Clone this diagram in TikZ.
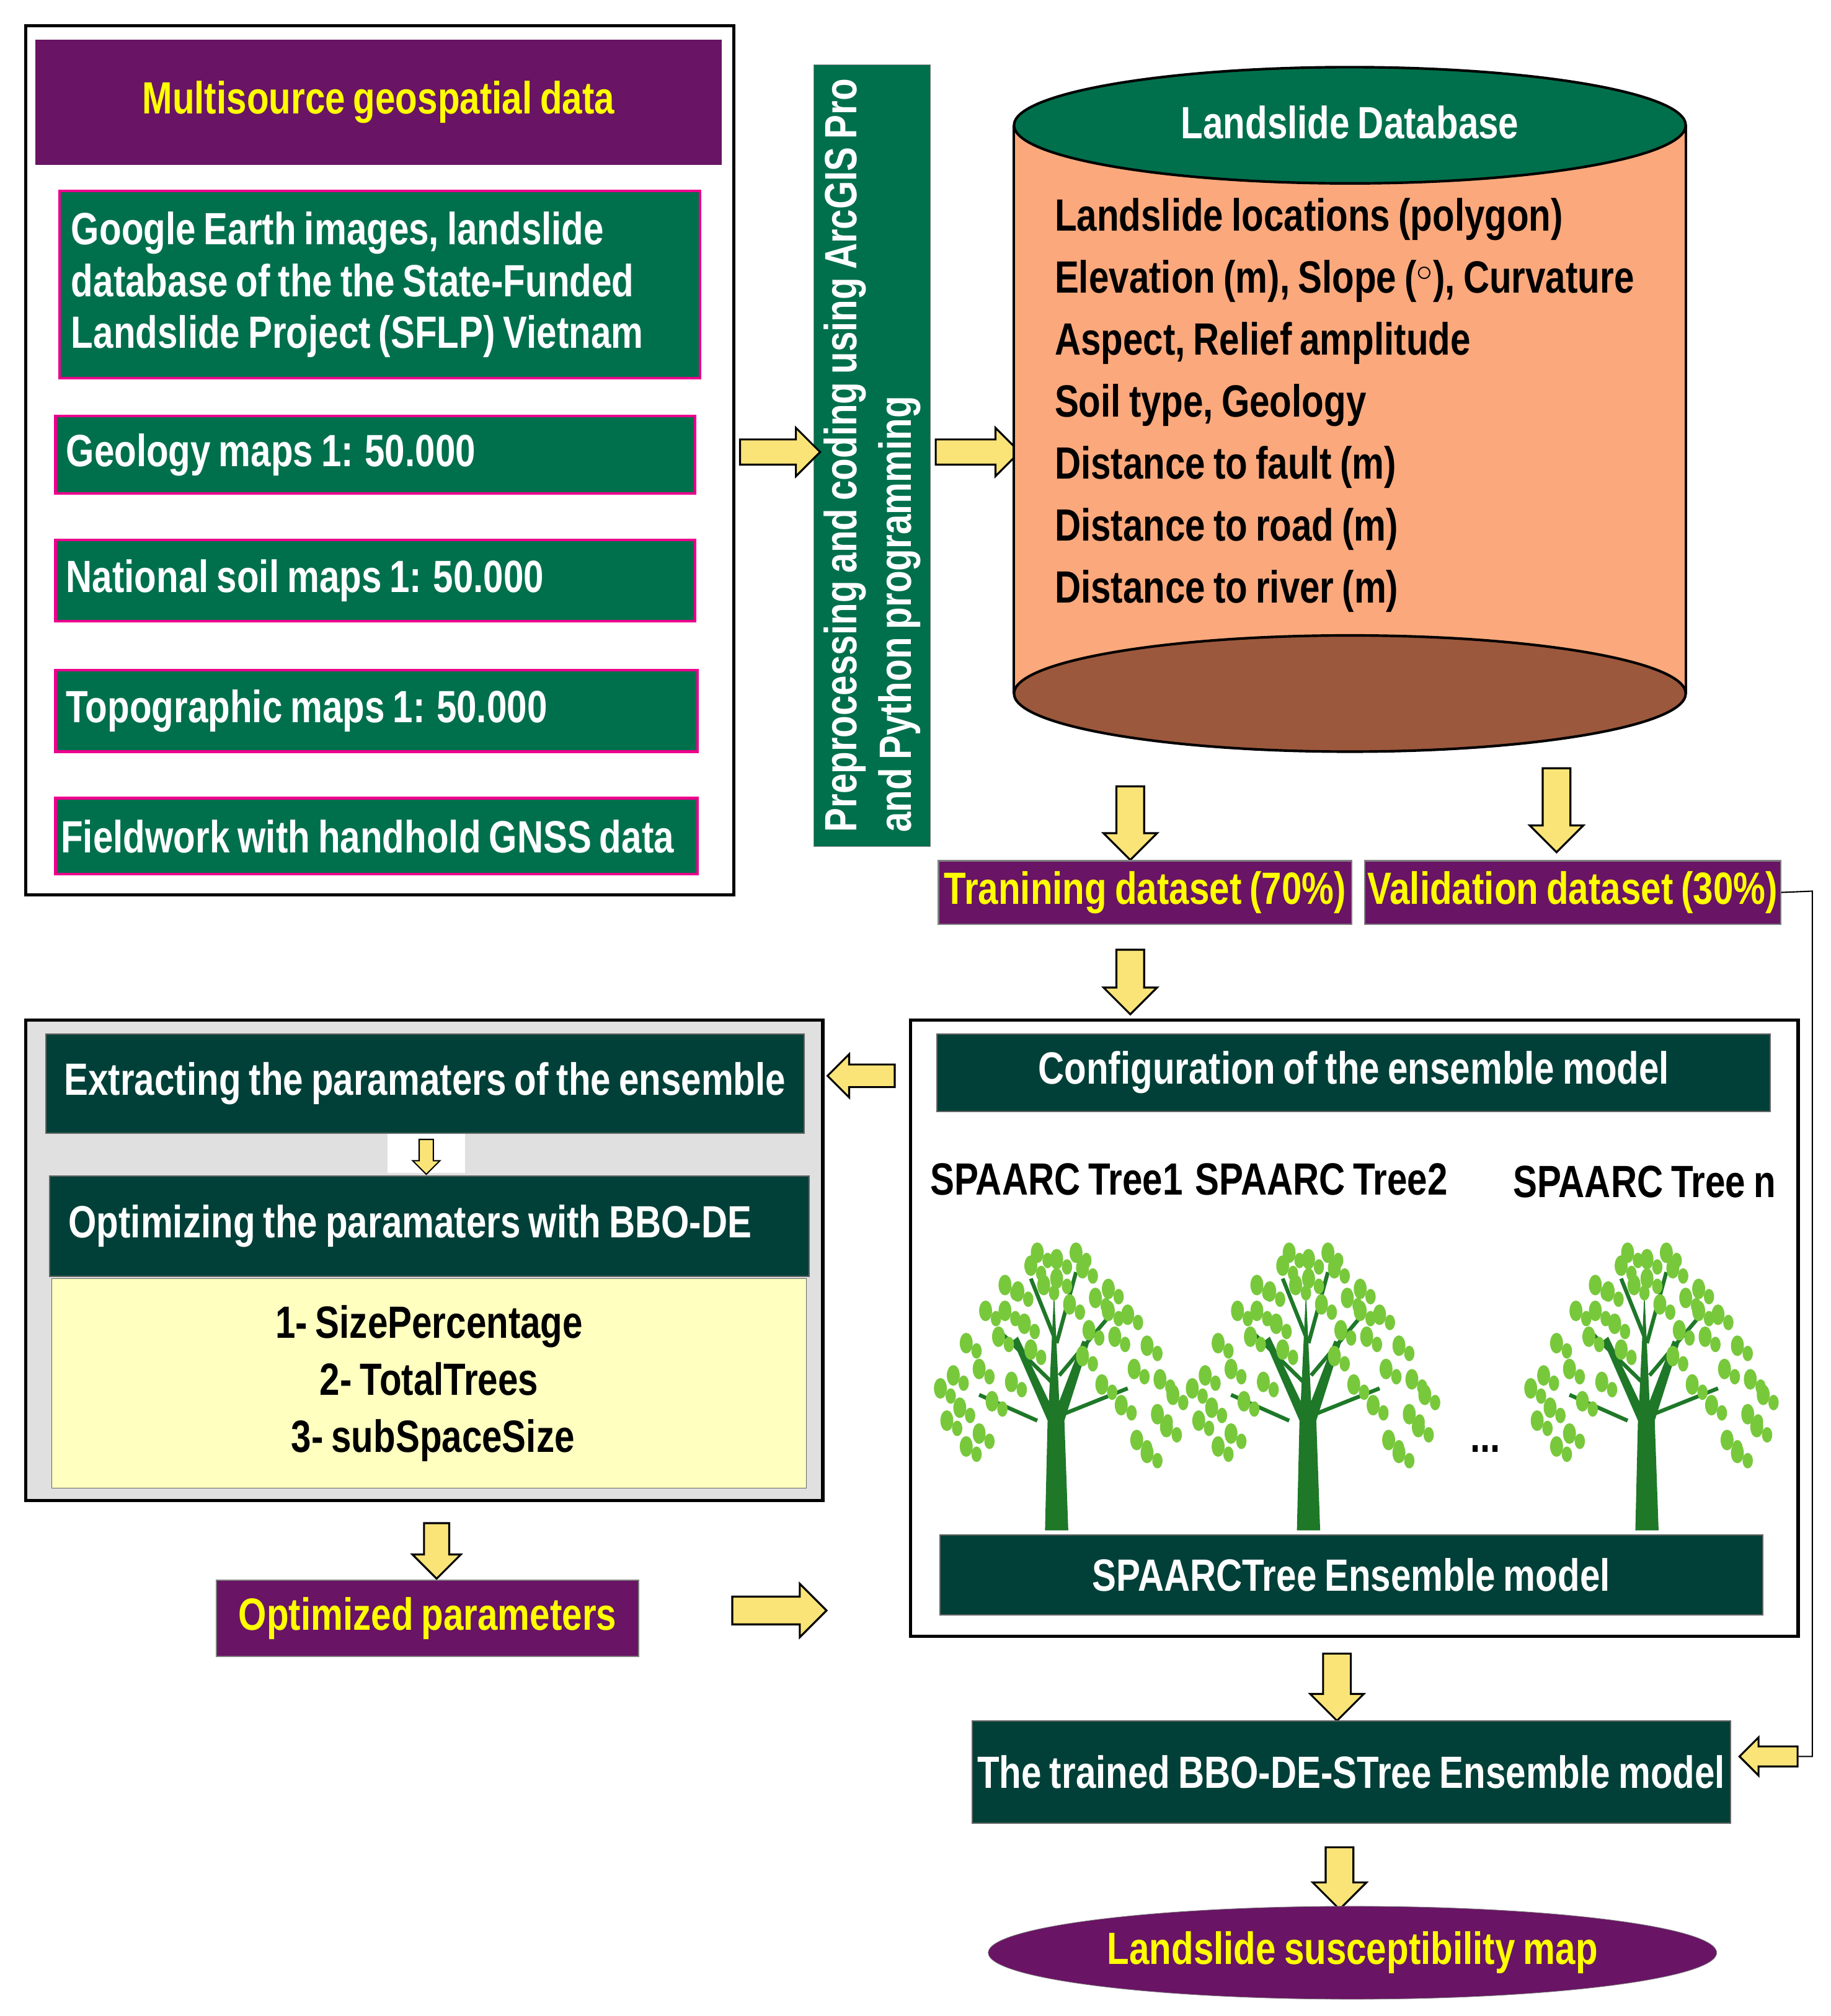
\documentclass[tikz,border=0pt]{standalone}
\usepackage{fontspec}
\setmainfont{Liberation Sans}[FakeStretch=0.8,WordSpace=0.8]
\usetikzlibrary{shapes.geometric,shapes.arrows}
\definecolor{dgreen}{RGB}{0,112,76}
\definecolor{dteal}{RGB}{0,64,56}
\definecolor{purp}{RGB}{105,20,100}
\definecolor{yel}{RGB}{255,255,0}
\definecolor{salmon}{RGB}{250,168,124}
\definecolor{brownc}{RGB}{155,88,60}
\definecolor{lyel}{RGB}{255,255,192}
\definecolor{arr}{RGB}{250,228,120}
\definecolor{leaf}{RGB}{120,200,60}
\definecolor{trunk}{RGB}{30,120,40}
\begin{document}
\begin{tikzpicture}[x=1pt,y=-1pt,
  txt/.style={font=\bfseries\fontsize{35}{42}\selectfont},
  gbox/.style={draw=magenta,line width=2pt,fill=dgreen,inner sep=0pt},
  wt/.style={txt,text=white,anchor=west,align=left,inner sep=0pt},
  tbox/.style={draw=black!60,line width=1pt,fill=dteal,text=white,txt,inner sep=0pt},
  pbox/.style={draw=black!50,line width=1pt,fill=purp,text=yel,txt,inner sep=0pt},
  barr/.style={single arrow,draw=black,line width=1.5pt,fill=arr,inner xsep=0pt,inner ysep=#1,single arrow head extend=#1},
  barr/.default=10pt,
  vbarr/.style={single arrow,shape border rotate=270,draw=black,line width=1.5pt,fill=arr,inner ysep=0pt,inner xsep=#1,single arrow head extend=#1},
  vbarr/.default=10pt,
  pics/tree/.style={code={
    \fill[trunk] (-9,125)--(9,125)--(6,40)--(25,-20)--(20,-22)--(2,25)--(-2,-60)--(-6,25)--(-30,-25)--(-34,-22)--(-7,40)--cycle;
    \draw[trunk,line width=3pt] (-4,10)--(-45,-30) (2,5)--(40,-40) (0,-20)--(-20,-70) (0,-20)--(15,-75) (-15,40)--(-60,20) (5,35)--(55,15);
    \foreach \a/\b in {0/-85,-20/-80,20/-78,-40/-65,40/-62,-55/-45,55/-42,-70/-20,70/-18,-80/5,80/8,-75/30,78/35,-60/50,62/55,-30/-60,30/-55,-10/-65,10/-50,-45/-25,45/-25,-25/-35,25/-30,-60/0,60/0,-35/10,35/12,-50/25,50/28,-85/40,85/45,-70/60,70/65,-15/-90,15/-90,0/-70,-40/-45,40/-45,-20/-15,20/-10,-90/15,90/20}{
      \fill[leaf] (\a,\b) ellipse (5 and 8);
      \fill[leaf] (\a+8,\b+6) ellipse (4 and 6);
    }
  }}]
\useasboundingbox (0,0) rectangle (1417,1561);
% left top
\draw[line width=2.5pt] (20,20) rectangle (568,693);
\node[pbox,draw=none,minimum width=531,minimum height=97,anchor=north west] (h1) at (27,30) {Multisource geospatial data};
\node[gbox,minimum width=496,minimum height=145,anchor=north west] (s1) at (45,147) {};
\node[wt] (s1t) at ([xshift=10]s1.west) {Google Earth images, landslide\\[-2pt]database of the the State-Funded\\[-2pt]Landslide Project (SFLP) Vietnam};
\node[gbox,minimum width=495,minimum height=60,anchor=north west] (s2) at (42,321) {};
\node[wt] (s2t) at ([xshift=9]s2.west) {Geology maps 1: 50.000};
\node[gbox,minimum width=495,minimum height=63,anchor=north west] (s3) at (42,417) {};
\node[wt] (s3t) at ([xshift=9]s3.west) {National soil maps 1: 50.000};
\node[gbox,minimum width=497,minimum height=63,anchor=north west] (s4) at (42,518) {};
\node[wt] (s4t) at ([xshift=9]s4.west) {Topographic maps 1: 50.000};
\node[gbox,minimum width=497,minimum height=59,anchor=north west] (s5) at (42,617) {};
\node[wt] (s5t) at ([xshift=5]s5.west) {Fieldwork with handhold GNSS data};
% vertical
\node[fill=dgreen,draw=black!50,minimum width=90,minimum height=605,anchor=north west,inner sep=0pt] (pre) at (630,50) {};
\node[txt,text=white,rotate=90,align=left] (pret) at (pre.center) {Preprocessing and coding using ArcGIS Pro\\and Python programming};
\node[barr=9pt,minimum height=62] (a1) at (599,350) {};
\node[barr=9pt,minimum height=65] (a2) at (752,350) {};
% cylinder
\fill[salmon] (785,97) rectangle (1305,537);
\draw[line width=2pt] (785,97)--(785,537) (1305,97)--(1305,537);
\draw[line width=2pt,fill=brownc] (1045,537) ellipse (260 and 45);
\draw[line width=2pt,fill=dgreen] (1045,97) ellipse (260 and 45);
\node[txt,text=white] (db) at (1045,95) {Landslide Database};
\node[txt,anchor=north west,align=left] (items) at (813,150) {Landslide locations (polygon)\\[6pt]Elevation (m), Slope ($^{\circ}$), Curvature\\[6pt]Aspect, Relief amplitude\\[6pt]Soil type, Geology\\[6pt]Distance to fault (m)\\[6pt]Distance to road (m)\\[6pt]Distance to river (m)};
\node[vbarr,minimum height=57] (a3) at (875,632) {};
\node[vbarr,minimum height=65] (a4) at (1205,622) {};
\node[pbox,minimum width=320,minimum height=49,anchor=north west] (tr) at (726,666) {Tranining dataset (70\%)};
\node[pbox,minimum width=322,minimum height=49,anchor=north west] (va) at (1056,666) {Validation dataset (30\%)};
\node[vbarr,minimum height=50] (a5) at (875,755) {};
% right box
\draw[line width=2.5pt] (705,790) rectangle (1392,1267);
\node[tbox,minimum width=645,minimum height=60,anchor=north west] (cfg) at (725,800) {Configuration of the ensemble model};
\node[txt] (t1) at (818,913) {SPAARC Tree1};
\node[txt] (t2) at (1023,913) {SPAARC Tree2};
\node[txt] (t3) at (1273,915) {SPAARC Tree n};
\pic at (818,1060) {tree};
\pic at (1013,1060) {tree};
\pic at (1275,1060) {tree};
\node[txt] (dots) at (1150,1122) {...};
\node[tbox,minimum width=637,minimum height=62,anchor=north west] (ens) at (727,1188) {SPAARCTree Ensemble model};
\node[barr=8pt,shape border rotate=180,minimum height=52] (a6) at (671,833) {};
% left box
\draw[line width=2.5pt,fill=black!12] (20,790) rectangle (637,1162);
\node[tbox,minimum width=587,minimum height=77,anchor=north west] (ex) at (35,800) {Extracting the paramaters of the ensemble};
\node[fill=white,minimum width=60,minimum height=30,inner sep=0pt] (wgap) at (330,893) {};
\node[vbarr=5pt,minimum height=27,line width=1pt] (a7) at (330,893) {};
\node[tbox,minimum width=588,minimum height=78,anchor=north west] (op) at (38,910) {Optimizing the paramaters with BBO-DE\hspace*{30pt}};
\node[draw=black!60,fill=lyel,minimum width=584,minimum height=162,anchor=north west] (par) at (40,990) {};
\node[txt,align=center] (part) at (par.center) {1- SizePercentage\\[2pt]2- TotalTrees\\[2pt]\,3- subSpaceSize};
\node[vbarr=9pt,minimum height=43] (a8) at (338,1196) {};
\node[pbox,minimum width=327,minimum height=59,anchor=north west] (opt) at (167,1223) {Optimized parameters};
\node[barr,minimum height=73] (a9) at (598,1247) {};
\node[vbarr,minimum height=52] (a10) at (1035,1301) {};
\node[tbox,minimum width=587,minimum height=79,anchor=north west] (trn) at (752,1332) {The trained BBO-DE-STree Ensemble model};
\node[barr=7pt,shape border rotate=180,minimum height=45] (a11) at (1373,1360) {};
\draw[line width=1pt] (va.east) -- (1403,690) -- (1403,1360) -- (a11.east);
\node[vbarr,minimum height=48] (a12) at (1037,1449) {};
\node[ellipse,draw=black!50,fill=purp,text=yel,txt,minimum width=564,minimum height=72,inner sep=0pt] (map) at (1047,1512) {Landslide susceptibility map};
\end{tikzpicture}
\end{document}
